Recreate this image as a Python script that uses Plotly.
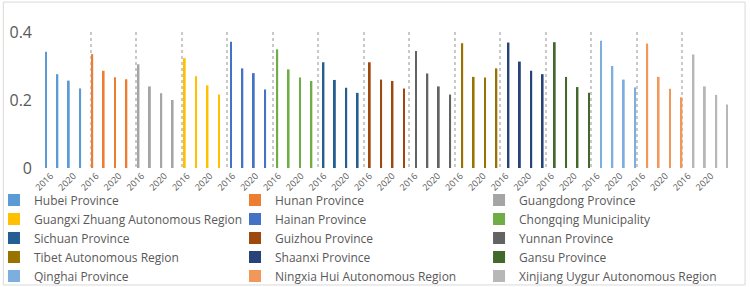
import plotly.graph_objects as go

provinces = ["Hubei Province", "Hunan Province", "Guangdong Province",
             "Guangxi Zhuang Autonomous Region", "Hainan Province", "Chongqing Municipality",
             "Sichuan Province", "Guizhou Province", "Yunnan Province",
             "Tibet Autonomous Region", "Shaanxi Province", "Gansu Province",
             "Qinghai Province", "Ningxia Hui Autonomous Region", "Xinjiang Uygur Autonomous Region"]
years = ["2016", "2018", "2020", "2022"]
year_labels = ["2016", "", "2020", ""]
values = [
    [0.342, 0.276, 0.257, 0.234],
    [0.335, 0.286, 0.267, 0.261],
    [0.305, 0.240, 0.220, 0.200],
    [0.323, 0.270, 0.243, 0.216],
    [0.371, 0.293, 0.279, 0.231],
    [0.349, 0.290, 0.266, 0.256],
    [0.311, 0.259, 0.236, 0.221],
    [0.311, 0.260, 0.256, 0.234],
    [0.344, 0.278, 0.240, 0.216],
    [0.367, 0.268, 0.266, 0.293],
    [0.369, 0.313, 0.286, 0.276],
    [0.370, 0.268, 0.238, 0.221],
    [0.374, 0.300, 0.260, 0.237],
    [0.366, 0.268, 0.233, 0.208],
    [0.334, 0.240, 0.215, 0.187],
]
colors = ["#5B9BD5", "#ED7D31", "#A5A5A5", "#FFC000", "#4472C4", "#70AD47",
          "#255E91", "#9E480E", "#636363", "#997300", "#264478", "#43682B",
          "#7CAFDD", "#F1975A", "#B7B7B7"]

n_p = len(provinces)
n_y = len(years)
n_c = n_p * n_y
legend_ids = ["legend", "legend2", "legend3"]

fig = go.Figure()
for p, (name, vals, col) in enumerate(zip(provinces, values, colors)):
    # clustered-bar slot offset of this series within each category slot
    off = -0.5 + 0.09 + p * 0.88 / (n_p - 1)
    xs = [p * n_y + k + off for k in range(n_y)]
    fig.add_trace(go.Bar(x=xs, y=vals, name=name, marker_color=col,
                         marker_line_width=0, width=0.16,
                         legend=legend_ids[p % 3]))

tickvals = [c for c in range(n_c)]
ticktext = [year_labels[c % n_y] for c in range(n_c)]
sep = [g * n_y - 0.5 for g in range(n_p + 1)]

leg_common = dict(orientation="v", xanchor="left", y=-0.128, yanchor="top",
                  traceorder="normal", font=dict(size=12, color="#595959"),
                  itemwidth=30, bgcolor="rgba(0,0,0,0)", borderwidth=0)

fig.update_layout(
    width=750, height=287,
    margin=dict(l=45, r=22, t=32, b=119, autoexpand=False),
    paper_bgcolor="white", plot_bgcolor="white",
    barmode="overlay",
    showlegend=True,
    font=dict(family="Open Sans, Noto Sans, sans-serif", color="#595959"),
    xaxis=dict(range=[-0.5, n_c - 0.5], tickmode="array", tickvals=tickvals,
               ticktext=ticktext, tickangle=-45, tickfont=dict(size=9, color="#595959"),
               showgrid=False, zeroline=False, showline=False, ticks="",
               minor=dict(tickmode="array", tickvals=sep, showgrid=True, griddash="dot",
                          gridcolor="#C9C9C9", gridwidth=2, ticks="")),
    yaxis=dict(range=[0, 0.4], tickvals=[0, 0.2, 0.4], ticktext=["0", "0.2", "0.4"],
               tickfont=dict(size=16, color="#595959"), showgrid=False, zeroline=False,
               showline=False, ticks="", ticklen=0, ticklabelstandoff=12),
    legend=dict(x=-0.0747, **leg_common),
    legend2=dict(x=0.2782, **leg_common),
    legend3=dict(x=0.6355, **leg_common),
    shapes=[dict(type="rect", xref="paper", yref="paper", x0=-0.061, x1=1.025,
                 y0=-0.86, y1=1.22, line=dict(color="#D9D9D9", width=1))],
)

fig.write_html("out.html")
